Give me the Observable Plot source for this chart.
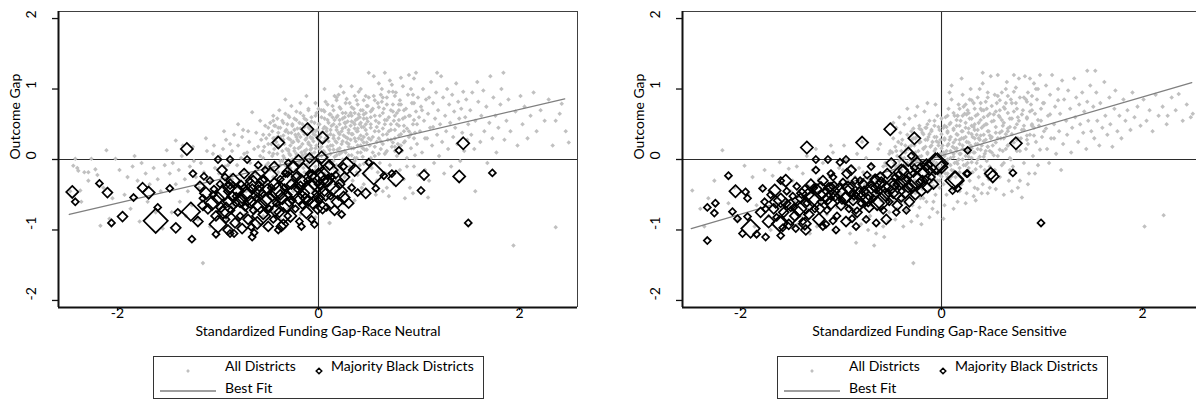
<!DOCTYPE html>
<html><head><meta charset="utf-8">
<script src="https://cdn.jsdelivr.net/npm/d3@7"></script>
<script src="https://cdn.jsdelivr.net/npm/@observablehq/plot@0.6"></script>
<style>
body{margin:0;background:#fff;font-family:Lato,"Open Sans",sans-serif;}
#wrap{position:relative;width:1196px;height:405px;overflow:hidden;background:#fff;}
.panel{position:absolute;top:0;}
.legend{position:absolute;top:356px;}
</style></head><body><div id="wrap"></div>
<script>
// Values are in hundredths of a standard unit: [fundingGap, outcomeGap]
const leftAllDistricts = [
[-242,1],[-226,1],[-240,-12],[-233,-18],[-220,-22],[-217,-94],[-208,-84],[-211,13],[-202,1],[-236,-60],[-247,-45],[-214,-40],[-205,-55],[-229,-30],[-244,-9],[-239,-16],[-229,-18],[-222,-14],[-237,-44],
[-198,-15],[-190,-25],[-185,-10],[-180,-30],[-176,-5],[-172,-20],[-168,-35],[-164,-12],[-160,-28],[-157,-45],[-153,-8],[-151,13],[-193,-50],[-187,-70],[-178,-88],[-170,-60],[-162,-75],[-155,-98],[-142,27],[-183,5],
[-148,-20],[-145,-5],[-142,-35],[-139,-15],[-136,5],[-133,-28],[-130,-45],[-128,-10],[-125,18],[-122,-25],[-119,-40],[-117,-5],[-114,-18],[-112,30],[-110,-55],[-107,-30],[-105,8],[-103,-12],[-101,-68],[-138,-60],[-132,-80],[-126,-65],[-120,-85],[-115,-70],[-108,-95],[-146,-75],[-135,20],[-124,-2],[-104,20],[-111,12],
[-99,-20],[-98,5],[-96,-35],[-95,15],[-93,-10],[-92,28],[-90,-48],[-89,-2],[-87,-22],[-86,12],[-84,35],[-83,-60],[-81,-8],[-80,20],[-78,-30],[-77,2],[-75,42],[-74,-15],[-72,-45],[-71,10],[-69,25],[-68,-5],[-66,67],[-65,-25],[-64,15],[-62,38],[-61,-12],[-60,-55],[-58,5],[-57,28],[-56,-38],[-54,18],[-53,48],[-52,-8],[-51,-70],[-97,-75],[-91,-85],[-85,-65],[-79,-90],[-73,-78],[-67,-88],[-63,-72],[-59,-92],[-55,-80],[-94,40],[-88,22],[-82,-40],[-76,32],[-70,-62],[-58,55],[-66,-45],[-52,30],[-62,-20],[-74,8],[-86,-28],[-80,50],[-55,2],[-70,40],[-60,18],[-90,-8],
[-49,10],[-49,35],[-48,-15],[-48,52],[-47,22],[-47,-40],[-46,5],[-46,40],[-45,62],[-45,-25],[-44,15],[-44,30],[-43,-5],[-43,48],[-42,-60],[-42,25],[-41,8],[-41,58],[-40,38],[-40,-18],[-39,18],[-39,70],[-38,-8],[-38,45],[-37,28],[-37,-35],[-36,12],[-36,55],[-35,-50],[-35,34],[-34,2],[-34,22],[-33,65],[-33,-20],[-32,42],[-32,15],[-31,-10],[-31,50],[-30,30],[-30,-70],[-29,8],[-29,60],[-28,20],[-28,-30],[-27,38],[-27,76],[-26,-2],[-26,48],[-25,25],[-25,-45],[-24,12],[-24,58],[-23,35],[-23,-15],[-22,4],[-22,68],[-21,28],[-21,44],[-20,-25],[-20,16],[-19,52],[-19,-5],[-18,32],[-18,80],[-17,10],[-17,-55],[-16,40],[-16,22],[-15,-12],[-15,62],[-14,2],[-14,46],[-13,28],[-13,-35],[-12,14],[-12,56],[-11,36],[-11,-8],[-10,24],[-10,72],[-9,6],[-9,44],[-8,-20],[-8,32],[-7,16],[-7,60],[-6,-4],[-6,40],[-5,26],[-5,-45],[-4,10],[-4,52],[-3,34],[-3,-15],[-2,20],[-2,66],[-1,4],[-1,42],[-45,-75],[-38,-85],[-27,-62],[-18,-78],[-9,-68],[-3,-82],[-33,85],[-12,90],[-44,48],[-36,-2],[-28,6],[-20,36],[-13,8],[-6,30],[-41,32],[-30,14],[-24,42],[-16,-25],[-10,50],[-2,-30],[-48,-55],[-22,-40],[-8,14],
[1,15],[1,50],[2,-10],[2,32],[3,70],[3,5],[4,24],[4,-40],[5,44],[5,12],[6,58],[6,-20],[7,30],[7,82],[8,2],[8,40],[9,18],[9,-55],[10,52],[10,26],[11,-5],[11,64],[12,36],[12,8],[13,-28],[13,48],[14,20],[14,76],[15,-12],[15,34],[16,56],[16,4],[17,26],[17,-45],[18,42],[18,88],[19,14],[19,62],[20,-18],[20,30],[21,50],[21,8],[22,72],[22,-35],[23,22],[23,40],[24,-5],[24,58],[25,34],[25,95],[26,12],[26,-25],[27,46],[27,66],[28,24],[28,2],[29,54],[29,-50],[30,38],[30,18],[31,80],[31,-10],[32,28],[32,48],[33,6],[33,62],[34,-30],[34,36],[35,16],[35,72],[36,44],[36,-2],[37,26],[37,56],[38,-18],[38,84],[39,10],[39,40],[40,64],[40,30],[41,-8],[41,50],[42,20],[42,100],[43,-40],[43,46],[44,4],[44,70],[45,32],[45,58],[46,-22],[46,14],[47,42],[47,90],[48,24],[48,-5],[49,54],[49,76],[50,123],[2,-60],[8,-70],[15,-52],[24,-62],[36,-58],[44,-48],[11,-90],[6,100],[20,92],[33,104],[28,86],[40,96],[12,-35],[18,-8],[26,60],[35,52],[43,28],[5,70],[16,90],[30,-40],[38,2],[47,66],[22,104],[45,-35],
[51,20],[52,45],[53,-12],[53,70],[54,32],[55,90],[56,5],[57,55],[58,-30],[58,25],[59,80],[60,40],[61,-5],[61,62],[62,15],[63,100],[64,35],[64,-45],[65,72],[66,50],[67,10],[67,-20],[68,88],[69,28],[70,60],[71,-8],[71,112],[72,42],[73,18],[74,78],[75,-35],[75,55],[76,30],[77,95],[78,5],[78,66],[79,22],[80,48],[81,-15],[81,84],[82,36],[83,12],[84,104],[84,58],[85,-28],[86,26],[87,72],[88,44],[88,2],[89,92],[90,32],[91,-40],[91,62],[92,16],[93,80],[94,50],[95,-10],[95,115],[96,38],[97,68],[98,22],[99,88],[99,-22],[55,118],[60,108],[66,123],[73,106],[82,116],[90,120],[97,123],[57,-50],[70,-52],[86,-55],[94,-48],[63,82],[76,12],[80,70],[52,60],[68,-40],[85,40],[92,100],[59,-18],[74,96],[100,60],[96,6],
[101,40],[102,75],[103,10],[104,100],[105,55],[106,-15],[107,85],[108,30],[109,65],[110,-30],[111,45],[112,110],[113,20],[114,80],[115,-5],[116,58],[117,95],[118,35],[119,70],[120,5],[121,50],[122,118],[123,25],[124,88],[125,-20],[126,62],[127,40],[128,100],[129,15],[130,78],[131,52],[132,-10],[133,92],[134,32],[135,68],[136,45],[137,108],[138,22],[139,82],[140,58],[141,-2],[142,72],[143,38],[144,96],[145,12],[146,60],[147,85],[148,28],[149,50],[109,-54],[156,-45],[118,123],
[151,70],[152,35],[153,95],[155,15],[156,55],[158,110],[159,82],[161,25],[162,62],[164,98],[165,40],[167,75],[168,-5],[170,52],[171,118],[173,30],[174,88],[176,62],[177,10],[179,45],[181,78],[182,100],[184,123],[185,28],[187,55],[189,85],[191,40],[194,-122],[196,68],[198,20],
[201,90],[203,50],[205,75],[208,30],[211,62],[214,95],[217,40],[221,70],[225,55],[229,85],[233,20],[236,55],[236,-96],[240,65],[242,79],[246,40],[249,24],[11,-90],[-115,-147]
];
// Dense core of the left cloud (same units)
const leftAllDistrictsCore = [
[-40,-10],[-40,20],[-40,45],[-35,5],[-35,28],[-35,52],[-30,-15],[-30,12],[-30,38],[-30,62],[-26,0],[-26,24],[-26,50],[-22,-20],[-22,8],[-22,32],[-22,56],[-18,-5],[-18,18],[-18,44],[-18,66],[-14,-18],[-14,12],[-14,36],[-14,58],[-10,-2],[-10,22],[-10,46],[-10,70],[-7,-25],[-7,8],[-7,30],[-7,54],[-3,-10],[-3,16],[-3,40],[-3,62],[-3,80],[0,-20],[0,6],[0,28],[0,50],[0,72],[3,-5],[3,18],[3,38],[3,60],[6,-28],[6,10],[6,26],[6,46],[6,68],[9,-12],[9,4],[9,34],[9,56],[9,78],[12,-22],[12,20],[12,42],[12,64],[15,-2],[15,14],[15,30],[15,50],[15,70],[18,-30],[18,6],[18,24],[18,46],[18,60],[18,84],[21,-10],[21,16],[21,36],[21,56],[21,74],[24,0],[24,26],[24,44],[24,66],[27,-20],[27,10],[27,32],[27,52],[27,80],[30,6],[30,22],[30,42],[30,62],[33,-12],[33,16],[33,36],[33,54],[33,74],[36,2],[36,30],[36,50],[36,66],[36,90],[39,-22],[39,20],[39,44],[39,58],[39,78],[42,10],[42,34],[42,52],[42,70],[45,-6],[45,24],[45,46],[45,64],[45,84],[48,14],[48,36],[48,58],[48,76],[52,2],[52,28],[52,50],[52,68],[56,18],[56,40],[56,62],[56,84],[60,8],[60,30],[60,52],[60,74],[64,22],[64,44],[64,66],[64,88],[68,12],[68,36],[68,56],[68,78],[72,28],[72,50],[72,70],[76,18],[76,42],[76,62],[76,90],[80,34],[80,56],[80,78],[85,24],[85,48],[85,70],[90,40],[90,62],[95,30],[95,56],[95,80],
[-55,-15],[-55,12],[-55,35],[-50,-5],[-50,22],[-50,45],[-45,-12],[-45,8],[-45,30],[-45,55],[-38,-2],[-38,32],[-33,-8],[-33,40],[-28,-12],[-28,28],[-24,16],[-20,-10],[-20,26],[-16,6],[-16,50],[-12,-8],[-12,30],[-8,20],[-8,44],[-5,-2],[-5,36],[2,24],[4,-12],[8,44],[11,14],[14,60],[17,-18],[20,38],[23,10],[26,52],[29,30],[32,66],[35,-4],[38,40],[41,60],[44,16],[47,50],[50,30],[50,88],[54,10],[54,72],[58,46],[62,26],[62,92],[66,8],[66,56],[70,40],[70,96],[74,24],[74,68],[78,50],[82,20],[82,78],[86,60],[88,-10],[92,36],[94,92],[98,50],[103,70],[106,30],[110,88],[114,46]
];
// [fundingGap, outcomeGap, enrollment weight]
const leftMajorityBlack = [
[-245,-46,3],[-242,-60,1],[-218,-34,1],[-210,-47,2],[-206,-90,1],[-195,-81,2],[-184,-54,1],[-175,-40,2],[-169,-47,3],[-162,-87,12],[-160,-68,1],[-148,-41,1],[-142,-97,2],[-140,-75,1],[-131,15,3],[-127,-74,7],[-126,-113,1],[-114,-24,1],[-100,0,1],[-88,0,1],[-71,0,1],[-102,-106,1],[-100,-92,6],[-88,-105,1],[-66,-110,1],[-78,-80,1],[-67,-96,1],[-40,24,3],[-11,43,3],[4,31,3],[80,13,1],[144,23,3],[173,-19,1],[140,-24,3],[105,-22,2],[102,-44,1],[149,-90,1],[77,-27,5],[73,-20,1],[55,-20,10],[65,-23,1],[50,-4,1],[28,-9,6],[25,-10,1],[47,-48,2],[39,-47,1],[57,-41,1],[25,-54,3],[4,-68,3],[3,3,3],
[-118,-38,2],[-115,-55,1],[-112,-48,3],[-110,-70,2],[-108,-30,1],[-106,-62,4],[-104,-42,1],[-102,-80,2],[-100,-55,3],[-98,-35,1],[-97,-68,2],[-95,-48,5],[-93,-25,1],[-92,-85,1],[-90,-60,2],[-89,-40,3],[-87,-72,1],[-86,-52,2],[-85,-30,4],[-83,-90,2],[-82,-62,1],[-80,-45,3],[-79,-75,6],[-77,-35,1],[-76,-55,2],[-74,-20,2],[-73,-68,1],[-72,-48,4],[-70,-85,2],[-69,-30,1],[-68,-60,3],[-66,-42,2],[-65,-72,1],[-63,-25,3],[-62,-55,1],[-61,-90,3],[-59,-38,2],[-58,-65,5],[-56,-48,1],[-55,-78,2],[-54,-28,1],[-52,-58,3],[-51,-42,2],[-49,-70,1],[-48,-22,4],[-46,-52,2],[-45,-85,1],[-44,-35,3],[-42,-62,1],[-41,-45,6],[-39,-75,2],[-38,-28,1],[-36,-55,3],[-35,-92,2],[-34,-40,1],[-32,-65,4],[-31,-18,2],[-30,-50,1],[-28,-80,3],[-27,-35,2],[-26,-58,1],[-24,-45,5],[-23,-70,1],[-22,-25,2],[-20,-55,3],[-19,-88,1],[-18,-38,2],[-16,-65,1],[-15,-15,4],[-14,-48,2],[-12,-75,3],[-11,-30,1],[-10,-58,2],[-8,-42,8],[-7,-85,1],[-6,-22,2],[-5,-62,3],[-3,-48,1],[-2,-12,5],[-1,-70,2],[1,-35,2],[2,-55,1],[4,-20,4],[6,-45,2],[8,-68,1],[9,-30,3],[11,-8,2],[12,-52,1],[14,-40,5],[16,-72,2],[17,-22,1],[19,-60,3],[21,-35,2],[23,-78,1],[26,-25,2],[30,-62,2],[33,-40,1],[36,-15,3],[-125,-20,1],[-120,-88,2],[-96,-15,2],[-84,-105,1],[-76,-98,2],[-64,-104,1],[-50,-95,2],[-40,-100,1],[-60,-8,1],[-44,-10,2],[-30,-5,1],[-20,-2,3],[-9,2,2],[-53,-15,1],[-25,-10,3],[-37,-95,2],[-17,-95,1],[-4,-92,1],[-90,-100,2],[-70,-50,9],[-50,-60,8],[-30,-30,7],[-10,-50,10],[10,-15,7],[-57,-80,7],[20,-45,6],[-92,-72,5],
[-115,-65,2],[-105,-50,1],[-95,-75,3],[-88,-35,2],[-82,-52,1],[-78,-58,4],[-74,-40,1],[-66,-60,2],[-60,-45,3],[-56,-30,2],[-47,-40,1],[-43,-72,3],[-38,-50,2],[-33,-20,1],[-29,-60,2],[-21,-42,1],[-17,-30,3],[-13,-55,2],[-9,-20,1],[-4,-35,3],[0,-58,1],[5,-30,2],[7,-50,3],[13,-25,1],[-65,-35,6],[-35,-80,5],[-85,-45,7],[0,-25,6]
];
const rightAllDistricts = [
[-248,-44],[-240,-70],[-232,-55],[-226,-30],[-218,13],[-212,-62],[-206,-40],[-202,-85],[-236,-95],
[-196,-9],[-192,-50],[-188,-25],[-184,-65],[-180,-40],[-176,-15],[-172,-80],[-168,-23],[-164,-55],[-161,-4],[-158,-35],[-155,-70],[-152,-13],[-186,-95],[-170,-100],[-154,-90],[-150,-45],
[-148,-30],[-146,-60],[-144,-10],[-142,-45],[-140,-80],[-138,-20],[-136,-55],[-134,5],[-132,-38],[-130,-70],[-128,-15],[-126,-50],[-124,-95],[-122,-28],[-120,-62],[-118,-5],[-116,-42],[-114,-78],[-112,-22],[-110,-55],[-108,10],[-106,-35],[-104,-68],[-102,-12],[-101,-48],[-143,-92],[-131,-105],[-117,-88],[-107,-100],[-125,15],[-110,20],
[-99,-40],[-98,-15],[-96,-65],[-95,0],[-93,-30],[-92,-85],[-90,-50],[-89,-10],[-87,-72],[-86,-25],[-84,8],[-83,-55],[-81,-38],[-80,-92],[-78,-18],[-77,-62],[-75,2],[-74,-45],[-72,-28],[-71,-80],[-69,-8],[-68,-52],[-67,-122],[-66,-35],[-64,-70],[-63,15],[-62,-20],[-60,-58],[-59,-42],[-58,-95],[-56,-5],[-55,-48],[-54,-30],[-52,-75],[-51,12],[-50,-38],[-97,20],[-91,-105],[-85,-118],[-79,25],[-73,-100],[-65,-105],[-61,22],[-57,-110],[-53,-88],[-94,-48],[-88,-58],[-82,-12],[-76,-35],[-70,-65],[-64,-48],[-58,-22],[-52,-60],[-75,-82],[-86,-80],
[-49,-20],[-49,10],[-48,-45],[-48,30],[-47,-5],[-47,-60],[-46,18],[-46,-32],[-45,45],[-45,-12],[-44,-70],[-44,5],[-43,-25],[-43,25],[-42,-50],[-42,-2],[-41,38],[-41,-38],[-40,12],[-40,-15],[-39,-58],[-39,28],[-38,-8],[-38,-30],[-37,50],[-37,2],[-36,-45],[-36,20],[-35,-18],[-35,-72],[-34,35],[-34,-5],[-33,-35],[-33,15],[-32,58],[-32,-52],[-31,0],[-31,-22],[-30,28],[-30,-40],[-29,8],[-29,-65],[-28,44],[-28,-12],[-27,-30],[-27,20],[-26,-48],[-26,62],[-25,-2],[-25,32],[-24,-20],[-24,-80],[-23,12],[-23,-38],[-22,48],[-22,-8],[-21,25],[-21,-55],[-20,-25],[-20,5],[-19,38],[-19,-42],[-18,15],[-18,-12],[-17,68],[-17,-32],[-16,28],[-16,-2],[-15,-60],[-15,45],[-14,-20],[-14,10],[-13,-45],[-13,32],[-12,0],[-12,55],[-11,-28],[-11,18],[-10,-10],[-10,40],[-9,-70],[-9,25],[-8,-38],[-8,5],[-7,48],[-7,-18],[-6,15],[-6,-50],[-5,32],[-5,-5],[-4,62],[-4,-30],[-3,20],[-3,-12],[-2,42],[-2,-40],[-1,8],[-1,28],[-46,-85],[-38,-95],[-30,-88],[-20,-92],[-12,-82],[-4,-75],[-28,-147],[-42,60],[-34,72],[-24,75],[-14,80],[-6,78],[-40,-28],[-32,18],[-26,-20],[-18,-55],[-10,-32],[-2,-22],[-44,-40],[-36,-62],[-22,-68],[-8,-60],[-16,45],[-48,52],
[1,-10],[1,20],[2,45],[2,-35],[3,5],[3,30],[4,-20],[4,60],[5,12],[5,-50],[6,38],[6,-5],[7,22],[7,72],[8,-28],[8,50],[9,2],[9,32],[10,-15],[10,85],[11,18],[11,-42],[12,42],[12,8],[13,-5],[13,62],[14,28],[14,-25],[15,48],[15,12],[16,-60],[16,35],[17,0],[17,78],[18,22],[18,-18],[19,55],[19,8],[20,-35],[20,40],[21,15],[21,92],[22,-8],[22,30],[23,65],[23,-22],[24,5],[24,45],[25,25],[25,-48],[26,70],[26,12],[27,-12],[27,38],[28,58],[28,-30],[29,20],[29,100],[30,2],[30,48],[31,32],[31,-18],[32,80],[32,10],[33,-40],[33,42],[34,22],[34,62],[35,-5],[35,35],[36,88],[36,15],[37,-25],[37,52],[38,28],[38,4],[39,72],[39,-10],[40,45],[40,20],[41,108],[41,-35],[42,35],[42,60],[43,8],[43,-15],[44,82],[44,28],[45,50],[45,-2],[46,18],[46,95],[47,40],[47,-28],[48,65],[48,12],[49,30],[49,118],[41,123],[10,105],[20,115],[3,-65],[12,-70],[24,-62],[34,-58],[46,-48],[2,-84],[18,-45],[28,85],[38,100],[8,95],[45,72],[14,-40],[32,-52],[22,75],[40,-48],[6,-25],[16,62],[26,-5],[36,-42],[48,-40],[44,-22],
[51,20],[52,55],[53,-15],[54,38],[55,80],[56,5],[57,62],[58,-25],[59,30],[60,95],[61,48],[62,-5],[63,72],[64,15],[65,110],[66,40],[67,-30],[68,58],[69,85],[70,25],[71,-10],[72,68],[73,45],[74,102],[75,12],[76,-40],[77,55],[78,88],[79,30],[80,-54],[81,70],[82,42],[83,118],[84,15],[85,60],[86,95],[87,-20],[88,35],[89,78],[90,50],[91,5],[92,108],[93,65],[94,25],[95,85],[96,-8],[97,48],[98,120],[99,72],[100,32],[54,-42],[62,-50],[70,-45],[78,-30],[86,-35],[56,120],[64,100],[72,120],[88,115],[96,100],[58,70],[66,20],[74,80],[82,-5],[90,90],[60,40],[68,-15],[76,30],[84,85],[92,45],[53,92],[61,12],[69,0],[77,115],[85,28],[93,-20],[99,55],
[101,80],[102,40],[104,105],[105,15],[106,62],[108,92],[109,30],[110,120],[112,50],[113,75],[114,8],[116,100],[117,40],[118,65],[120,112],[121,22],[122,85],[124,55],[125,35],[126,98],[128,72],[129,10],[130,45],[132,115],[133,60],[134,88],[136,25],[137,78],[138,50],[140,95],[141,38],[142,68],[144,15],[145,82],[146,55],[148,105],[149,40],[145,126],[153,126],[107,-5],[119,-15],
[151,75],[152,30],[154,95],[155,55],[157,20],[158,80],[160,45],[162,110],[163,62],[165,35],[167,88],[168,50],[170,18],[172,72],[173,98],[175,40],[177,62],[179,30],[181,85],[183,55],[185,70],[188,42],[190,95],[192,60],[195,75],[198,48],
[202,-95],[201,85],[204,55],[207,70],[210,40],[213,92],[216,62],[220,75],[221,-79],[224,50],[225,62],[229,88],[233,70],[236,93],[240,55],[244,78],[248,60],[250,65]
];
// Dense core of the right cloud (same units)
const rightAllDistrictsCore = [
[-60,-40],[-60,-20],[-55,-30],[-55,-8],[-50,-45],[-50,-22],[-50,0],[-45,-35],[-45,-10],[-45,12],[-40,-40],[-40,-20],[-40,2],[-40,22],[-35,-30],[-35,-8],[-35,14],[-30,-45],[-30,-22],[-30,-2],[-30,20],[-30,40],[-26,-30],[-26,-10],[-26,10],[-26,30],[-22,-40],[-22,-18],[-22,4],[-22,24],[-22,44],[-18,-25],[-18,-4],[-18,16],[-18,36],[-14,-32],[-14,-12],[-14,8],[-14,28],[-14,50],[-10,-18],[-10,2],[-10,20],[-10,42],[-7,-28],[-7,-8],[-7,12],[-7,32],[-7,55],[-3,-16],[-3,4],[-3,24],[-3,46],[0,-24],[0,-4],[0,16],[0,36],[0,58],[3,-12],[3,8],[3,28],[3,48],[6,-20],[6,0],[6,20],[6,40],[6,62],[9,-8],[9,12],[9,32],[9,52],[12,-16],[12,4],[12,24],[12,44],[12,66],[15,-4],[15,16],[15,36],[15,56],[18,-12],[18,8],[18,28],[18,48],[18,72],[21,0],[21,20],[21,40],[21,62],[24,-8],[24,12],[24,32],[24,52],[24,78],[27,4],[27,24],[27,44],[27,66],[30,-4],[30,16],[30,36],[30,58],[30,84],[33,10],[33,30],[33,50],[33,72],[36,0],[36,22],[36,42],[36,64],[39,14],[39,34],[39,56],[39,80],[42,4],[42,26],[42,48],[42,70],[46,18],[46,40],[46,62],[46,88],[50,10],[50,32],[50,54],[50,76],[54,24],[54,46],[54,68],[58,14],[58,38],[58,60],[58,84],[62,30],[62,52],[62,74],[66,20],[66,44],[66,66],[66,90],[70,36],[70,58],[70,80],[75,28],[75,50],[75,72],[80,42],[80,64],[85,34],[85,58],[85,82],[90,48],[90,70],
[-65,-50],[-65,-28],[-58,-55],[-58,-10],[-52,-32],[-52,8],[-48,-52],[-46,-20],[-42,-8],[-38,-52],[-36,10],[-33,-18],[-28,-34],[-28,30],[-24,0],[-20,-12],[-20,42],[-16,18],[-12,-22],[-12,36],[-8,-2],[-5,26],[-2,-30],[2,10],[4,-10],[5,46],[8,28],[10,-24],[13,16],[16,-6],[16,62],[20,30],[22,-20],[25,64],[28,10],[32,46],[34,-14],[37,30],[40,70],[44,12],[44,50],[48,-10],[48,34],[52,64],[52,6],[56,30],[56,90],[60,-8],[60,56],[64,36],[64,80],[68,2],[68,46],[72,24],[72,96],[76,60],[78,12],[82,48],[82,88],[86,22],[88,68],[92,34],[94,100],[96,56],[98,14],[102,80],[104,44],[108,64],[112,30],[116,84]
];
const rightMajorityBlack = [
[-233,-115,1],[-233,-68,1],[-225,-62,1],[-226,-76,1],[-212,-23,1],[-208,-74,1],[-203,-84,1],[-205,-45,3],[-195,-46,1],[-193,-55,1],[-198,-105,1],[-190,-98,7],[-184,-106,1],[-175,-110,1],[-193,-81,1],[-178,-41,1],[-160,-30,1],[-166,-44,3],[-158,-97,1],[-160,-108,1],[-161,-91,5],[-134,17,3],[-125,0,1],[-113,0,1],[-101,-4,1],[-95,0,1],[-79,24,3],[-51,43,3],[-27,30,3],[-33,4,7],[-6,-6,9],[26,13,1],[74,23,3],[71,-19,1],[26,-20,1],[49,-20,3],[51,-24,3],[13,-30,7],[25,-20,1],[11,-44,1],[16,-41,1],[0,-11,3],[99,-90,1],[-21,-10,1],[-4,-6,9],[14,-28,5],[-89,-84,1],[-118,-95,1],[-108,-87,1],[-136,-91,3],
[-180,-75,2],[-176,-60,1],[-172,-88,3],[-170,-50,1],[-167,-70,2],[-164,-82,1],[-160,-58,4],[-157,-75,2],[-154,-45,1],[-152,-92,2],[-150,-65,3],[-148,-52,1],[-146,-80,2],[-144,-38,1],[-142,-70,5],[-140,-55,2],[-138,-88,1],[-136,-45,3],[-134,-62,1],[-132,-78,2],[-130,-35,2],[-128,-55,6],[-126,-70,1],[-124,-42,2],[-122,-85,3],[-120,-60,1],[-118,-30,2],[-116,-50,4],[-114,-72,1],[-112,-40,2],[-110,-62,3],[-108,-25,1],[-106,-52,2],[-104,-80,1],[-102,-45,5],[-100,-65,2],[-98,-32,1],[-96,-55,3],[-94,-20,2],[-92,-70,1],[-90,-42,4],[-88,-58,2],[-86,-30,1],[-84,-75,2],[-82,-48,3],[-80,-62,1],[-78,-35,2],[-76,-52,6],[-74,-22,1],[-72,-68,2],[-70,-40,3],[-68,-55,1],[-66,-28,2],[-64,-62,4],[-62,-45,1],[-60,-32,2],[-58,-72,1],[-56,-50,3],[-54,-20,2],[-52,-60,1],[-50,-38,5],[-48,-48,2],[-46,-25,1],[-44,-65,2],[-42,-35,3],[-40,-55,1],[-38,-15,2],[-36,-45,4],[-34,-28,1],[-32,-60,2],[-30,-38,3],[-28,-20,1],[-26,-50,2],[-24,-8,5],[-22,-32,1],[-20,-45,2],[-18,-18,3],[-16,-28,1],[-14,-40,2],[-12,-12,4],[-10,-25,1],[-8,-35,2],[-155,-30,3],[-145,-98,1],[-135,-100,2],[-125,-15,1],[-115,-92,1],[-105,-100,1],[-95,-88,2],[-85,-95,1],[-75,-85,1],[-65,-90,1],[-55,-85,2],[-45,-75,1],[-35,-72,1],[-90,-15,2],[-70,-10,1],[-50,-5,2],[-30,5,1],[-110,-20,1],[-120,-45,7],[-95,-48,8],[-70,-48,7],[-45,-45,6],[-85,-62,9],[-60,-60,6],[-150,-80,7],[-25,-30,6],[-40,-18,5],
[-175,-70,1],[-165,-60,3],[-155,-62,2],[-147,-68,1],[-139,-48,2],[-133,-50,3],[-127,-40,1],[-121,-70,2],[-113,-55,3],[-107,-38,2],[-99,-58,1],[-93,-40,3],[-87,-50,2],[-81,-30,1],[-77,-45,2],[-73,-58,3],[-67,-40,1],[-61,-25,2],[-57,-38,3],[-53,-48,1],[-47,-35,2],[-43,-22,1],[-37,-30,3],[-33,-40,2],[-27,-12,1],[-19,-30,2],[-15,-8,3],[-135,-65,6],[-110,-45,6],[-65,-35,7]
];
// Best-fit line endpoints [fundingGap, outcomeGap]
const leftBestFit = [[-2.48,-0.78],[2.45,0.86]];
const rightBestFit = [[-2.49,-0.98],[2.49,1.09]];
const yTicks = [-2,-1,0,1,2];
const xTicks = [-2,0,2];
const leftXLabel = "Standardized Funding Gap-Race Neutral";
const rightXLabel = "Standardized Funding Gap-Race Sensitive";
const yLabel = "Outcome Gap";
const legendLabels = ["All Districts","Majority Black Districts","Best Fit"];

const FONT = "Lato, 'Open Sans', sans-serif";
const FS = 14;
const Y_DOMAIN = [-2.1, 2.1];

function makePanel(all, black, fit, xLabel, width, marginRight, xDomain) {
  const gray = all.map(([x,y]) => ({x: x/100, y: y/100}));
  const blk = black.map(([x,y,w]) => ({x: x/100, y: y/100, w}));
  const fitData = fit.map(([x,y]) => ({x, y}));
  const x0 = xDomain[0], x1 = xDomain[1];
  return Plot.plot({
    width, height: 345,
    marginLeft: 58, marginRight, marginTop: 11, marginBottom: 38,
    x: {domain: xDomain, axis: null},
    y: {domain: Y_DOMAIN, axis: null},
    r: {type: "sqrt", domain: [0, 16], range: [0, 12.6]},
    style: {fontFamily: FONT, fontSize: FS + "px", color: "#000", background: "#fff", overflow: "visible"},
    marks: [
      Plot.ruleY([0], {stroke: "#2b2b2b", strokeWidth: 1.1}),
      Plot.ruleX([0], {stroke: "#2b2b2b", strokeWidth: 1.1}),
      Plot.dot(gray, {x: "x", y: "y", r: 2.05, symbol: "diamond2", fill: "#c0c0c0", stroke: "none"}),
      Plot.line(fitData, {x: "x", y: "y", stroke: "#7f7f7f", strokeWidth: 1.3}),
      Plot.dot(blk, {x: "x", y: "y", r: "w", symbol: "diamond2", fill: "none", stroke: "#000", strokeWidth: 1.7}),
      // frame: thin top & right, heavy left & bottom axes
      Plot.ruleY([Y_DOMAIN[1]], {stroke: "#404040", strokeWidth: 1}),
      Plot.ruleX([x1], {stroke: "#404040", strokeWidth: 1}),
      Plot.ruleX([x0], {stroke: "#111", strokeWidth: 2}),
      Plot.ruleY([Y_DOMAIN[0]], {stroke: "#111", strokeWidth: 2.2}),
      // y ticks and labels
      Plot.ruleY(yTicks, {y: d => d, x1: x0 - 0.06, x2: x0, stroke: "#111", strokeWidth: 1.3}),
      Plot.text(yTicks, {y: d => d, frameAnchor: "left", dx: -27, rotate: -90, text: d => String(d), fontSize: FS}),
      Plot.text([yLabel], {frameAnchor: "left", dx: -43, rotate: -90, text: d => d, fontSize: FS}),
      // x ticks and labels
      Plot.ruleX(xTicks, {x: d => d, y1: Y_DOMAIN[0], y2: Y_DOMAIN[0] - 0.045, stroke: "#111", strokeWidth: 1.2}),
      Plot.text(xTicks, {x: d => d, frameAnchor: "bottom", dy: 10, text: d => String(d), fontSize: FS}),
      Plot.text([xLabel], {frameAnchor: "bottom", dy: 28, text: d => d, fontSize: FS})
    ]
  });
}

function makeLegend() {
  const svg = d3.create("svg").attr("width", 332).attr("height", 45)
    .style("font-family", FONT).style("font-size", FS + "px");
  svg.append("rect").attr("x", 0.5).attr("y", 0.5).attr("width", 330).attr("height", 42)
    .attr("fill", "#fff").attr("stroke", "#333").attr("stroke-width", 1);
  svg.append("path").attr("d", d3.symbol(d3.symbolDiamond2, Math.PI * 1.7 * 1.7)())
    .attr("transform", "translate(35,15)").attr("fill", "#c0c0c0");
  svg.append("text").attr("x", 72).attr("y", 10).attr("dy", "0.35em").text(legendLabels[0]);
  svg.append("path").attr("d", d3.symbol(d3.symbolDiamond2, Math.PI * 2.5 * 2.5)())
    .attr("transform", "translate(166,15)").attr("fill", "none").attr("stroke", "#000").attr("stroke-width", 1.5);
  svg.append("text").attr("x", 178).attr("y", 10).attr("dy", "0.35em").text(legendLabels[1]);
  svg.append("line").attr("x1", 7).attr("x2", 63).attr("y1", 35).attr("y2", 35)
    .attr("stroke", "#7f7f7f").attr("stroke-width", 1.3);
  svg.append("text").attr("x", 72).attr("y", 32).attr("dy", "0.35em").text(legendLabels[2]);
  return svg.node();
}

const wrap = document.getElementById("wrap");
function place(node, left, top, cls) {
  const div = document.createElement("div");
  div.className = cls; div.style.left = left + "px"; if (top != null) div.style.top = top + "px";
  div.appendChild(node); wrap.appendChild(div);
}
place(makePanel(leftAllDistricts.concat(leftAllDistrictsCore), leftMajorityBlack, leftBestFit, leftXLabel, 580, 3, [-2.587, 2.577]), 0, 0, "panel");
place(makePanel(rightAllDistricts.concat(rightAllDistrictsCore), rightMajorityBlack, rightBestFit, rightXLabel, 572, 0, [-2.577, 2.537]), 624, 0, "panel");
place(makeLegend(), 153, null, "legend");
place(makeLegend(), 777, null, "legend");
</script></body></html>
